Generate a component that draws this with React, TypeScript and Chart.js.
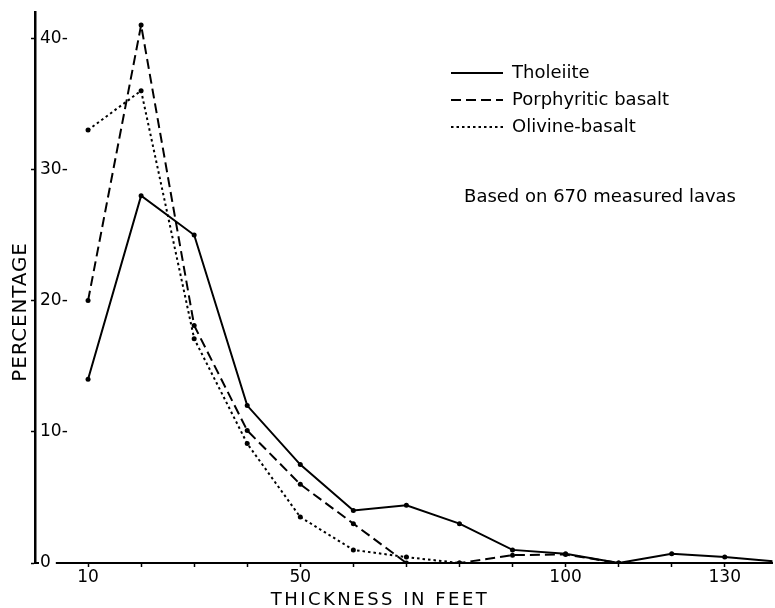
import React, { useEffect, useRef } from 'react';
import { Chart, registerables } from 'chart.js';

Chart.register(...registerables);

// ---- data ----
const thickness = [10, 20, 30, 40, 50, 60, 70, 80, 90, 100, 110, 120, 130, 140];
const tholeiite = [14, 28, 25, 12, 7.5, 4, 4.4, 3, 1, 0.7, 0, 0.7, 0.45, 0.1];
const porphyritic = [20, 41, 18.1, 10.1, 6, 3, 0, 0, 0.6, 0.65, 0];
const olivine = [33, 36, 17.1, 9.1, 3.5, 1, 0.45, 0];
const seriesNames = ['Tholeiite', 'Porphyritic basalt', 'Olivine-basalt'];
const seriesDashes = [[], [10, 5], [2.5, 3]];
const xTickLabels = [10, 50, 100, 130];
const xTitle = 'THICKNESS IN FEET';
const yTitle = 'PERCENTAGE';
const noteText = 'Based on 670 measured lavas';

const FONT = "'DejaVu Sans', sans-serif";

const toPoints = (vals: number[]) => vals.map((v, i) => ({ x: thickness[i], y: v }));

const textPlugin = {
  id: 'extraTexts',
  afterDraw(chart: any) {
    const ctx = chart.ctx as CanvasRenderingContext2D;
    const a = chart.chartArea;
    ctx.save();
    ctx.fillStyle = '#000';
    ctx.textAlign = 'center';
    ctx.textBaseline = 'middle';
    // x title
    ctx.font = `18px ${FONT}`;
    try { (ctx as any).letterSpacing = '2.5px'; } catch (e) {}
    ctx.fillText(xTitle, a.left + 345, a.bottom + 37);
    // y title
    ctx.save();
    try { (ctx as any).letterSpacing = '0.8px'; } catch (e) {}
    ctx.font = `20px ${FONT}`;
    ctx.translate(21, a.top + 300);
    ctx.rotate(-Math.PI / 2);
    ctx.fillText(yTitle, 0, 0);
    ctx.restore();
    // note
    try { (ctx as any).letterSpacing = '0px'; } catch (e) {}
    ctx.font = `18px ${FONT}`;
    ctx.fillText(noteText, 600, 197);
    ctx.restore();
  },
};

const legendPlacer = {
  id: 'legendPlacer',
  afterLayout(chart: any) {
    const l = chart.legend;
    if (!l) return;
    l.left = 442;
    l.top = 55;
    l.right = 775;
    l.bottom = 260;
  },
};

export default function App() {
  const ref = useRef<HTMLCanvasElement>(null);
  useEffect(() => {
    if (!ref.current) return;
    const common = {
      borderColor: '#000',
      backgroundColor: '#000',
      borderWidth: 2,
      pointRadius: 2.5,
      pointBorderWidth: 0,
      pointBackgroundColor: '#000',
      pointHoverRadius: 2.5,
      tension: 0,
      fill: false,
    };
    const chart = new Chart(ref.current, {
      type: 'line',
      data: {
        datasets: [
          { ...common, label: seriesNames[0], data: toPoints(tholeiite), borderDash: seriesDashes[0] },
          { ...common, label: seriesNames[1], data: toPoints(porphyritic), borderDash: seriesDashes[1] },
          { ...common, label: seriesNames[2], data: toPoints(olivine), borderDash: seriesDashes[2] },
        ] as any,
      },
      options: {
        responsive: false,
        animation: false,
        events: [],
        layout: { padding: { top: 12, left: 0, right: 0, bottom: 0 } },
        scales: {
          x: {
            type: 'linear',
            min: 0,
            max: 139,
            afterFit(s: any) {
              s.height = 45;
              s.paddingLeft = 0;
              s.paddingRight = 0;
            },
            border: { color: '#000', width: 2 },
            grid: {
              drawOnChartArea: false,
              drawTicks: true,
              tickLength: 4,
              tickWidth: 1.5,
              tickColor: (ctx: any) => (ctx.tick && ctx.tick.value > 0 ? '#000' : 'rgba(0,0,0,0)'),
            },
            ticks: {
              stepSize: 10,
              includeBounds: false,
              autoSkip: false,
              maxRotation: 0,
              padding: 0,
              color: '#000',
              font: { size: 17, family: FONT },
              callback: (v: any) => (xTickLabels.includes(Number(v)) ? String(v) : ''),
            },
          },
          y: {
            type: 'linear',
            min: 0,
            max: 42,
            afterFit(s: any) {
              s.width = 35;
              s.paddingTop = 0;
              s.paddingBottom = 0;
            },
            border: { color: '#000', width: 2.5 },
            grid: { drawOnChartArea: false, tickLength: 4, tickWidth: 1.5, tickColor: '#000' },
            ticks: {
              stepSize: 10,
              includeBounds: false,
              mirror: true,
              padding: 5,
              z: 1,
              color: '#000',
              font: { size: 17, family: FONT },
              callback: (v: any) => (Number(v) === 0 ? '0' : `${v}-`),
              showLabelBackdrop: true,
              backdropColor: (ctx: any) => (ctx.tick && ctx.tick.value === 0 ? '#fff' : 'rgba(0,0,0,0)'),
              backdropPadding: { left: 1, right: 5, top: 1, bottom: 1 },
            } as any,
          },
        },
        plugins: {
          legend: {
            position: 'chartArea' as any,
            align: 'start',
            labels: {
              usePointStyle: true,
              pointStyle: 'line',
              pointStyleWidth: 52,
              padding: 9,
              color: '#000',
              font: { size: 18, family: FONT },
              generateLabels: (c: any) => {
                const items = (Chart.defaults.plugins.legend.labels as any).generateLabels(c);
                return items.map((it: any) => ({
                  ...it,
                  pointStyle: 'line',
                  lineWidth: 2,
                  strokeStyle: '#000',
                  lineDash: seriesDashes[it.datasetIndex],
                  lineDashOffset: 0,
                }));
              },
            },
          },
          tooltip: { enabled: false },
        },
      } as any,
      plugins: [legendPlacer, textPlugin],
    });
    return () => chart.destroy();
  }, []);

  return (
    <div style={{ position: 'absolute', left: 0, top: 0, width: 775, height: 608, background: '#fff' }}>
      <canvas ref={ref} width={775} height={608} style={{ display: 'block' }} />
    </div>
  );
}
